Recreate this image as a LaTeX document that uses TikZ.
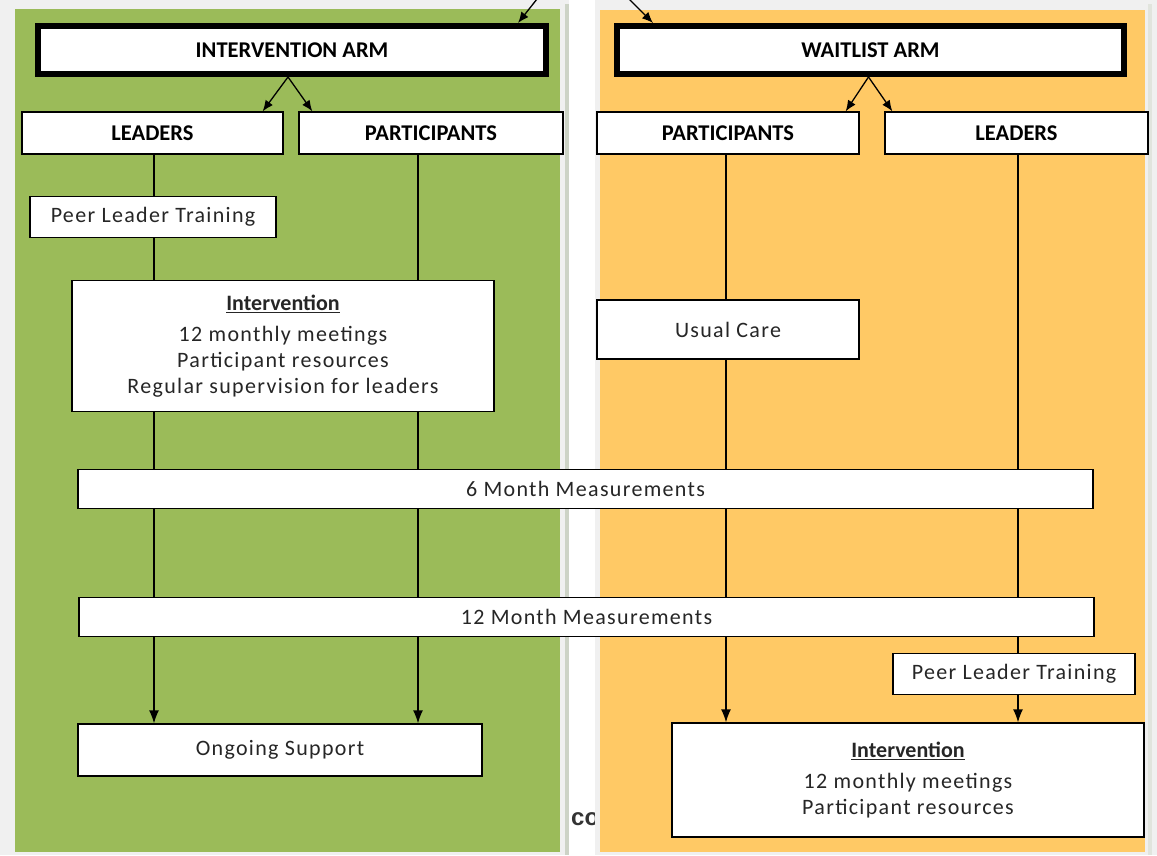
\documentclass[tikz,border=0pt]{standalone}
\usepackage{fontspec}
\setmainfont{Carlito}
\newfontfamily\bodyfont[LetterSpace=6]{Carlito}
\newfontfamily\headfont{Carlito}
\newfontfamily\cofont{Liberation Sans}
\usetikzlibrary{arrows.meta}
\definecolor{grn}{HTML}{9BBB59}
\definecolor{org}{HTML}{FFC965}
\definecolor{bgc}{HTML}{F0F0F0}
\definecolor{sepc}{HTML}{CDD3C6}
\begin{document}
\begin{tikzpicture}[x=1pt,y=-1pt,
  box/.style={draw=black, fill=white, line width=1.3pt, inner sep=0pt, align=center,
    font=\bodyfont\fontsize{22}{26}\selectfont, text=black!85},
  headbox/.style={box, font=\headfont\bfseries\fontsize{22.5}{24}\selectfont, text=black},
  armbox/.style={headbox, line width=6pt},
  conn/.style={line width=1.3pt, draw=black},
  arr/.style={conn, -{Latex[length=13pt,width=10pt]}},
  sarr/.style={conn, -{Latex[length=11pt,width=9pt]}}]
\useasboundingbox (0,0) rectangle (1157,855);
% panels
\fill[bgc] (0,0) rectangle (1157,855);
\fill[grn] (15,9) rectangle (560,852);
\fill[sepc] (565,4) rectangle (569,855);
\fill[white] (569,0) rectangle (595,855);
\node[font=\cofont\bfseries\fontsize{24}{24}\selectfont, text=black!80, anchor=base west, inner sep=0pt] (co) at (571,825) {co};
\fill[bgc] (595,0) rectangle (600,855);
\fill[org] (600,10) rectangle (1145,852);
\fill[sepc!60] (1148,4) rectangle (1152,855);
% nodes
\node[armbox, minimum width=508pt, minimum height=48pt] (iarm) at (292,50) {INTERVENTION ARM};
\node[armbox, minimum width=507pt, minimum height=48pt] (warm) at (870.5,50) {WAITLIST ARM};
\node[headbox, minimum width=261pt, minimum height=42pt] (lead1) at (152.5,133) {LEADERS};
\node[headbox, minimum width=264pt, minimum height=42pt] (part1) at (431,133) {PARTICIPANTS};
\node[headbox, minimum width=262pt, minimum height=42pt] (part2) at (728,133) {PARTICIPANTS};
\node[headbox, minimum width=263pt, minimum height=42pt] (lead2) at (1016.5,133) {LEADERS};
\node[box, minimum width=246pt, minimum height=41pt] (plt1) at (153,217) {Peer Leader Training};
\node[box, minimum width=422pt, minimum height=131pt] (intv1) at (283,346)
  {{\headfont\bfseries\underline{Intervention}}\\[5pt]12 monthly meetings\\Participant resources\\Regular supervision for leaders};
\node[box, minimum width=262pt, minimum height=59pt] (usual) at (728,329.5) {Usual Care};
\node[box, minimum width=1015pt, minimum height=39pt] (m6) at (585.5,489) {6 Month Measurements};
\node[box, minimum width=1015pt, minimum height=39pt] (m12) at (586.5,617) {12 Month Measurements};
\node[box, minimum width=404pt, minimum height=52pt] (ongo) at (280,750) {Ongoing Support};
\node[box, minimum width=242pt, minimum height=41pt] (plt2) at (1014,674) {Peer Leader Training};
\node[box, minimum width=472pt, minimum height=114pt] (intv2) at (908,780)
  {{\headfont\bfseries\underline{Intervention}}\\[5pt]12 monthly meetings\\Participant resources};
% column coordinates
\coordinate (cA) at (154,0);
\coordinate (cB) at (418,0);
\coordinate (cC) at (726,0);
\coordinate (cD) at (1018,0);
\coordinate (t1) at (541,-6);
\coordinate (t2) at (624,-6);
% top arrows
\draw[sarr] (t1) -- ([xshift=-31pt]iarm.north east);
\draw[sarr] (t2) -- ([xshift=39pt]warm.north west);
\draw[sarr] ([xshift=-4pt]iarm.south) -- ([xshift=-21pt]lead1.north east);
\draw[sarr] ([xshift=-4pt]iarm.south) -- ([xshift=14pt]part1.north west);
\draw[sarr] ([xshift=-2pt]warm.south) -- ([xshift=-14pt]part2.north east);
\draw[sarr] ([xshift=-2pt]warm.south) -- ([xshift=8pt]lead2.north west);
% left leaders column
\draw[conn] (lead1.south -| cA) -- (plt1.north -| cA);
\draw[conn] (plt1.south -| cA) -- (intv1.north -| cA);
\draw[conn] (intv1.south -| cA) -- (m6.north -| cA);
\draw[conn] (m6.south -| cA) -- (m12.north -| cA);
\draw[arr] (m12.south -| cA) -- (ongo.north -| cA);
% left participants column
\draw[conn] (part1.south -| cB) -- (intv1.north -| cB);
\draw[conn] (intv1.south -| cB) -- (m6.north -| cB);
\draw[conn] (m6.south -| cB) -- (m12.north -| cB);
\draw[arr] (m12.south -| cB) -- (ongo.north -| cB);
% right participants column
\draw[conn] (part2.south -| cC) -- (usual.north -| cC);
\draw[conn] (usual.south -| cC) -- (m6.north -| cC);
\draw[conn] (m6.south -| cC) -- (m12.north -| cC);
\draw[arr] (m12.south -| cC) -- (intv2.north -| cC);
% right leaders column
\draw[conn] (lead2.south -| cD) -- (m6.north -| cD);
\draw[conn] (m6.south -| cD) -- (m12.north -| cD);
\draw[conn] (m12.south -| cD) -- (plt2.north -| cD);
\draw[arr] (plt2.south -| cD) -- (intv2.north -| cD);
\end{tikzpicture}
\end{document}
